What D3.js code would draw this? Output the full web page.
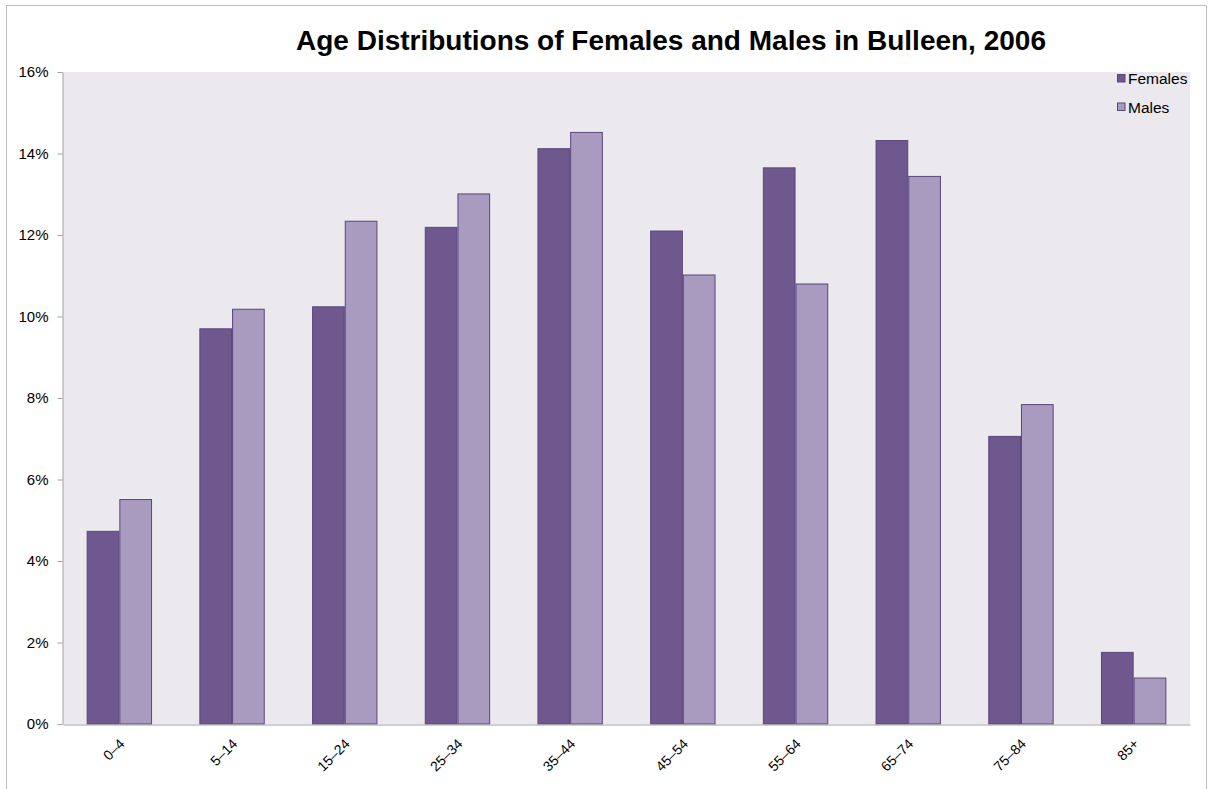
<!DOCTYPE html>
<html>
<head>
    <meta charset="utf-8">
    <title>Age Distributions of Females and Males in Bulleen, 2006</title>
    <script src="https://cdn.jsdelivr.net/npm/d3@7"></script>
    <style>
        body { margin: 0; background: #fff; font-family: "Liberation Sans", Arial, sans-serif; }
        .axis text { font-family: "Liberation Sans", Arial, sans-serif; fill: #000; }
        .axis path, .axis line { stroke: #a0a0a0; }
    </style>
</head>
<body>
<script>
    // Données
    var ageGroups = ["0–4", "5–14", "15–24", "25–34", "35–44", "45–54", "55–64", "65–74", "75–84", "85+"];
    var females = [4.74, 9.71, 10.25, 12.20, 14.13, 12.11, 13.66, 14.33, 7.07, 1.77];
    var males   = [5.52, 10.19, 12.35, 13.02, 14.53, 11.03, 10.81, 13.45, 7.85, 1.14];
    var seriesNames = ["Females", "Males"];
    var yTicks = [0, 2, 4, 6, 8, 10, 12, 14, 16];

    var colors = ["#6f588e", "#a99bbf"];

    var width = 1208, height = 789;
    var margin = {top: 72, right: 18, bottom: 65, left: 63};

    var svg = d3.select("body").append("svg")
        .attr("width", width)
        .attr("height", height);

    // bordure extérieure
    svg.append("rect")
        .attr("x", 6.5).attr("y", 5.5)
        .attr("width", 1200).attr("height", 820)
        .attr("fill", "#fff")
        .attr("stroke", "#bdbdbd");

    var x = d3.scaleBand()
        .domain(ageGroups)
        .range([margin.left, width - margin.right])
        .paddingInner(0.42)
        .paddingOuter(0.21);

    var xInner = d3.scaleBand()
        .domain(seriesNames)
        .range([0, x.bandwidth()]);

    var y = d3.scaleLinear()
        .domain([0, 16])
        .range([height - margin.bottom, margin.top]);

    // fond de la zone de tracé
    svg.append("rect")
        .attr("x", margin.left).attr("y", margin.top)
        .attr("width", width - margin.right - margin.left)
        .attr("height", y(0) - margin.top)
        .attr("fill", "#ebe8ee");

    // titre
    svg.append("text")
        .attr("x", 671).attr("y", 50)
        .attr("text-anchor", "middle")
        .style("font-size", "28px")
        .style("font-weight", "bold")
        .text("Age Distributions of Females and Males in Bulleen, 2006");

    // barres
    var table = ageGroups.map(function(g, i) {
        return {group: g, values: [females[i], males[i]]};
    });

    var groups = svg.selectAll("g.group")
        .data(table)
        .enter().append("g")
        .attr("class", "group")
        .attr("transform", function(d) { return "translate(" + x(d.group) + ",0)"; });

    groups.selectAll("rect")
        .data(function(d) { return d.values.map(function(v, j) { return {name: seriesNames[j], value: v, j: j}; }); })
        .enter().append("rect")
        .attr("x", function(d) { return xInner(d.name) + 0.5; })
        .attr("y", function(d) { return y(d.value) + 0.5; })
        .attr("width", xInner.bandwidth() - 1)
        .attr("height", function(d) { return y(0) - y(d.value) - 0.5; })
        .attr("fill", function(d) { return colors[d.j]; })
        .attr("stroke", "#5a457e")
        .attr("stroke-width", 1);

    // axe Y
    var yAxis = svg.append("g")
        .attr("class", "axis")
        .attr("transform", "translate(" + (margin.left - 0.5) + ",0)")
        .call(d3.axisLeft(y).tickValues(yTicks).tickSize(5).tickSizeOuter(0)
            .tickFormat(function(d) { return d + "%"; }));
    yAxis.selectAll("text").style("font-size", "15px").attr("x", -14);

    // axe X
    var xAxis = svg.append("g")
        .attr("class", "axis")
        .attr("transform", "translate(0," + (y(0) + 0.5) + ")")
        .call(d3.axisBottom(x).tickSize(0).tickSizeOuter(0));
    xAxis.selectAll("text")
        .style("font-size", "14px")
        .attr("text-anchor", "end")
        .attr("dy", 0)
        .attr("transform", "translate(4,18) rotate(-45)");

    // légende
    var legend = svg.append("g").attr("transform", "translate(1117,74)");
    seriesNames.forEach(function(n, i) {
        legend.append("rect")
            .attr("x", 0.5).attr("y", i * 28.5 + 0.5)
            .attr("width", 7.5).attr("height", 7.5)
            .attr("fill", colors[i])
            .attr("stroke", "#5a457e");
        legend.append("text")
            .attr("x", 11).attr("y", i * 28.5 + 10)
            .style("font-size", "15.5px")
            .text(n);
    });
</script>
</body>
</html>
